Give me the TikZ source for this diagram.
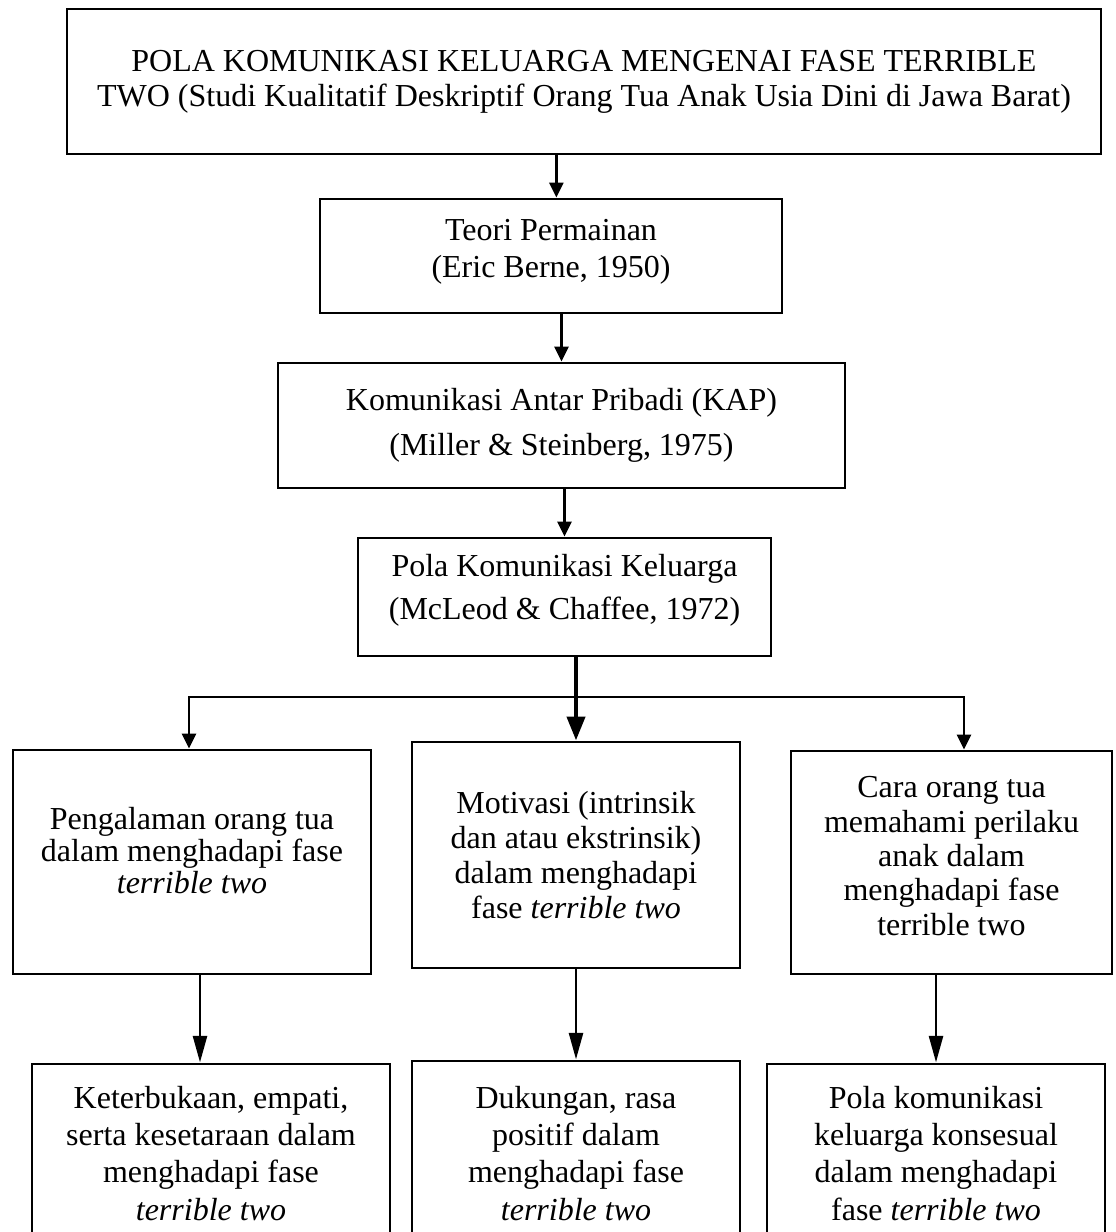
\documentclass[tikz,border=0pt]{standalone}
\usepackage{fontspec}
\setmainfont{Liberation Serif}
\usetikzlibrary{arrows.meta,positioning}
\newcommand{\pushup}[1]{\rule[-#1]{0pt}{#1}}

\begin{document}
\begin{tikzpicture}[x=0.375pt, y=-0.375pt,
  boxsize/.style 2 args={minimum width=#1*0.375pt, minimum height=#2*0.375pt},
  lead/.style={font=\fontsize{12pt}{#1}\selectfont},
  arr/.style={line width=1.1pt, -{Triangle[length=5.6pt,width=5.2pt]}},
  longarr/.style={line width=1.1pt, -{Triangle[length=10pt,width=5.2pt]}},
  bigarr/.style={line width=1.7pt, -{Triangle[length=9pt,width=6.7pt]}}]
\tikzstyle{box}=[draw, rectangle, line width=1.1pt, inner sep=0pt, align=center, lead=13.1pt]
\path[use as bounding box] (0,0) rectangle (1115,1232);
\clip (0,0) rectangle (1115,1232);
% judul dan teori
\node[box, boxsize={1034}{145}] (top) at (584,81.5) {POLA KOMUNIKASI KELUARGA MENGENAI FASE TERRIBLE\\TWO (Studi Kualitatif Deskriptif Orang Tua Anak Usia Dini di Jawa Barat)};
\node[box, boxsize={462}{114}, lead=13.9pt] (teori) at (551,256) {Teori Permainan\\(Eric Berne, 1950)\pushup{6pt}};
\node[box, boxsize={567}{125}, lead=16.9pt] (kap) at (561.5,425.5) {Komunikasi Antar Pribadi (KAP)\\(Miller \& Steinberg, 1975)};
\node[box, boxsize={413}{118}, lead=16.1pt] (pkk) at (564.5,597) {Pola Komunikasi Keluarga\\(McLeod \& Chaffee, 1972)\pushup{7.5pt}};
% tiga aspek
\node[box, boxsize={358}{224}, lead=12pt] (peng) at (192,862) {Pengalaman orang tua\\dalam menghadapi fase\\\textit{terrible two}\pushup{9pt}};
\node[box, boxsize={328}{226}, lead=13.1pt] (moti) at (576,855) {Motivasi (intrinsik\\dan atau ekstrinsik)\\dalam menghadapi\\fase \textit{terrible two}};
\node[box, boxsize={321}{223}, lead=12.9pt] (cara) at (951.5,862.5) {Cara orang tua\\memahami perilaku\\anak dalam\\menghadapi fase\\terrible two\pushup{5pt}};
% hasil
\node[box, boxsize={358}{179}, lead=13.9pt] (kbk) at (211,1153.5) {Keterbukaan, empati,\\serta kesetaraan dalam\\menghadapi fase\\\textit{terrible two}};
\node[box, boxsize={328}{185}, lead=13.9pt] (dkg) at (576,1153.5) {Dukungan, rasa\\positif dalam\\menghadapi fase\\\textit{terrible two}};
\node[box, boxsize={338}{179}, lead=13.9pt] (pkks) at (936,1153.5) {Pola komunikasi\\keluarga konsesual\\dalam menghadapi\\fase \textit{terrible two}};
\coordinate (bl) at (189,697);
\coordinate (br) at (964,697);
\draw[arr] ([xshift=2pt]teori.north |- top.south) -- ([xshift=2pt]teori.north);
\foreach \i/\j in {teori/kap,kap/pkk}{\draw[arr] (\j.north |- \i.south) -- (\j.north);}
\draw[bigarr] (moti.north |- pkk.south) -- (moti.north);
\draw[arr] (br) -- (bl) -- (bl |- peng.north);
\draw[arr] (bl) -- (br) -- (br |- cara.north);
\draw[longarr] ([xshift=3pt]peng.south) -- ([xshift=3pt]peng.south |- kbk.north);
\draw[longarr] (moti.south) -- (moti.south |- dkg.north);
\draw[longarr] (pkks.north |- cara.south) -- (pkks.north);
\end{tikzpicture}
\end{document}
